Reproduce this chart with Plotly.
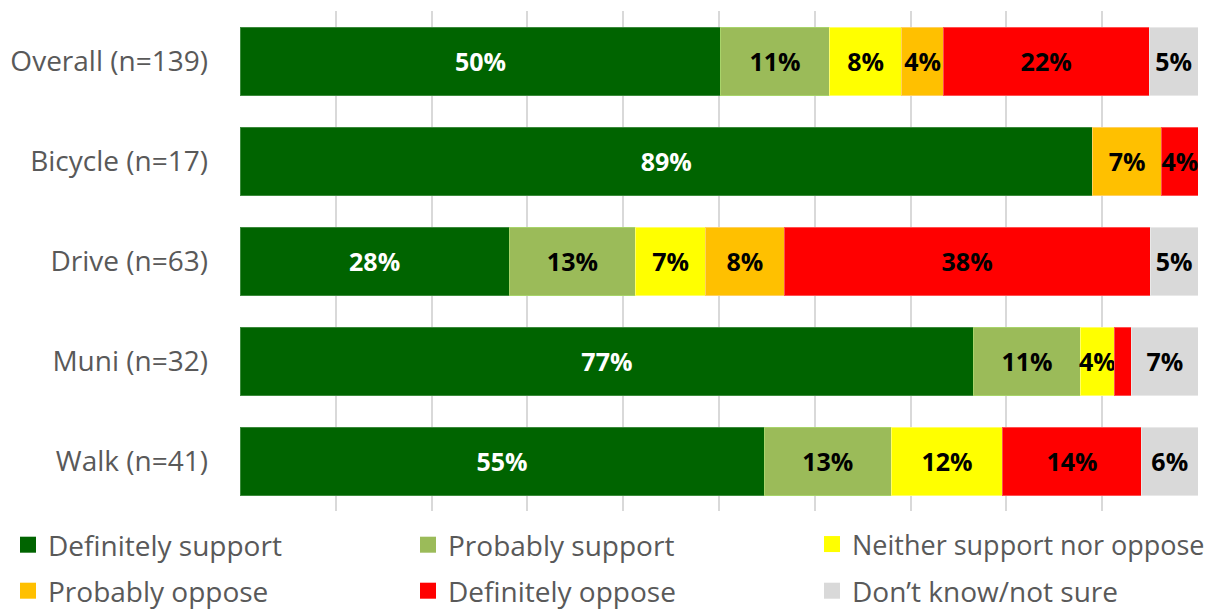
import plotly.graph_objects as go

categories = ["Overall (n=139)", "Bicycle (n=17)", "Drive (n=63)", "Muni (n=32)", "Walk (n=41)"]
series_names = ["Definitely support", "Probably support", "Neither support nor oppose",
                "Probably oppose", "Definitely oppose", "Don\u2019t know/not sure"]
definitely_support = [50.2, 89.0, 28.1, 76.6, 54.7]
probably_support = [11.3, 0.0, 13.2, 11.1, 13.3]
neither = [7.6, 0.0, 7.3, 3.6, 11.6]
probably_oppose = [4.3, 7.2, 8.2, 0.0, 0.0]
definitely_oppose = [21.5, 3.8, 38.2, 1.8, 14.5]
dont_know = [5.1, 0.0, 5.0, 6.9, 5.9]

series_values = [definitely_support, probably_support, neither, probably_oppose, definitely_oppose, dont_know]
colors = ["#006400", "#9BBB59", "#FFFF00", "#FFC000", "#FF0000", "#D9D9D9"]
line_colors = ["#3C8A3C", "#A8D46A", "#FFFF66", "#FFD060", "#FF5050", "#E8E8E8"]
text_colors = ["#FFFFFF", "#000000", "#000000", "#000000", "#000000", "#000000"]
legend_font_sizes = [28, 28, 27, 28, 28, 28]

FONT = "Open Sans"
# the page body adds an 8px margin, so the figure is 8px smaller than the window
W, H = 1214, 604
legend_x_px = [-3, 400, 804]
legend_y_px = [512, 558]

fig = go.Figure()
layout_legends = {}
for i, (name, vals) in enumerate(zip(series_names, series_values)):
    labels = [f"{v:.0f}%" if v >= 3 else "" for v in vals]
    lname = "legend" if i == 0 else f"legend{i + 1}"
    fig.add_trace(go.Bar(
        y=categories, x=vals, name=name, orientation="h",
        marker=dict(color=colors[i], line=dict(color=line_colors[i], width=1)),
        text=labels, textposition="inside", insidetextanchor="middle",
        textangle=0,
        textfont=dict(family=FONT, size=25, color=text_colors[i], weight="bold"),
        showlegend=False,
        hoverinfo="skip",
    ))
    # legend swatch (larger square than the default bar swatch)
    fig.add_trace(go.Scatter(
        x=[None], y=[None], mode="markers", name=name,
        marker=dict(symbol="square", size=16, color=colors[i]),
        legend=lname, showlegend=True, hoverinfo="skip",
    ))
    col, row = i % 3, i // 3
    layout_legends[lname] = dict(
        orientation="h", xref="container", yref="container",
        x=legend_x_px[col] / W, y=1 - legend_y_px[row] / H,
        xanchor="left", yanchor="top",
        font=dict(family=FONT, size=legend_font_sizes[i], color="#595959"),
        bgcolor="rgba(0,0,0,0)",
    )

fig.update_layout(
    barmode="stack",
    bargap=0.32,
    width=W, height=H,
    margin=dict(l=232, r=24, t=3, b=101, autoexpand=False),
    paper_bgcolor="white", plot_bgcolor="white",
    font=dict(family=FONT, color="#595959", size=28),
    uniformtext=dict(minsize=25, mode="show"),
    xaxis=dict(range=[0, 100], dtick=10, showgrid=True, gridcolor="#D9D9D9", gridwidth=2,
               showticklabels=False, zeroline=False, showline=False, fixedrange=True,
               automargin=False),
    yaxis=dict(autorange="reversed", showgrid=False, ticklabelstandoff=31, automargin=False,
               categoryorder="array", categoryarray=categories,
               tickfont=dict(family=FONT, size=28, color="#595959"), showline=False),
    showlegend=True,
    **layout_legends,
)

fig.write_html("out.html")
